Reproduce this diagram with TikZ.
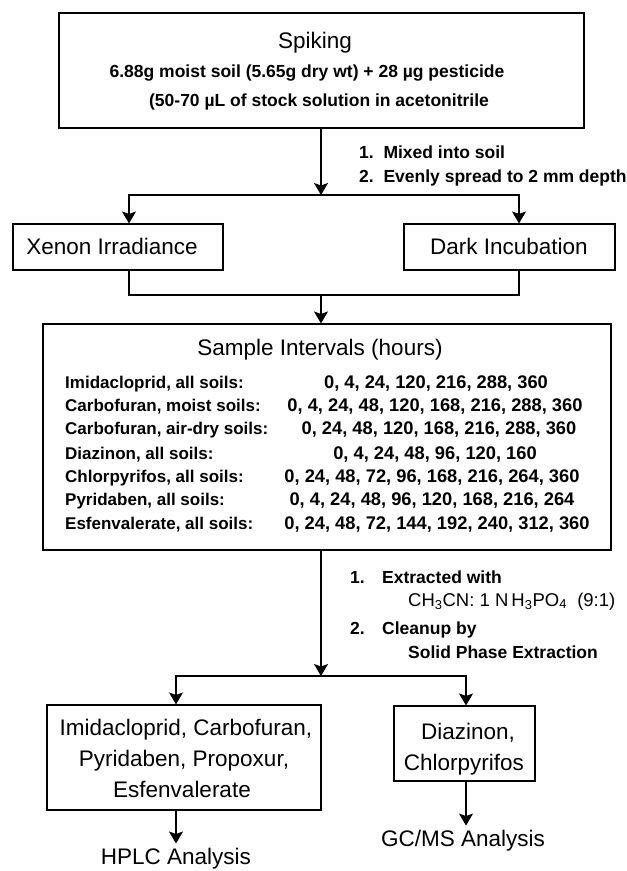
\documentclass[tikz,border=0pt]{standalone}
\usepackage{fontspec}
\setmainfont{Liberation Sans}
\usetikzlibrary{arrows.meta,calc}
\begin{document}
\begin{tikzpicture}[x=1pt,y=-1pt,
  box/.style={draw, line width=1.1pt, inner sep=0pt},
  ln/.style={line width=1.1pt},
  arr/.style={line width=1.1pt, -{Stealth[length=12pt,width=14pt,inset=2.5pt]}},
  big/.style={font=\fontsize{22.5}{27}\selectfont, anchor=base, inner sep=0pt},
  sm/.style={font=\fontsize{17.5}{21}\selectfont\bfseries, anchor=base, inner sep=0pt},
  smw/.style={sm, anchor=base west},
  lab/.style={font=\fontsize{17}{21}\selectfont\bfseries, anchor=base west, inner sep=0pt},
  num/.style={font=\fontsize{18.3}{21}\selectfont\bfseries, anchor=base, inner sep=0pt},
  chem/.style={font=\fontsize{18.5}{21}\selectfont, anchor=base west, inner sep=0pt}]
\useasboundingbox (0,0) rectangle (627,871);

% boxes
\node[box, minimum width=525pt, minimum height=115pt] (spike) at (321.5,70.5) {};
\node[box, minimum width=210pt, minimum height=46pt] (xenon) at (118,247) {};
\node[box, minimum width=211pt, minimum height=46pt] (dark) at (509.5,247) {};
\node[box, minimum width=568pt, minimum height=226pt] (sample) at (327,437) {};
\node[box, minimum width=274pt, minimum height=105pt] (hplcbox) at (184,757.5) {};
\node[box, minimum width=141pt, minimum height=75pt] (gcbox) at (464.5,743.5) {};

% texts
\node[big] (t1) at (315,48) {Spiking};
\node[sm] (t2) at (307,77) {6.88g moist soil (5.65g dry wt) + 28 µg pesticide};
\node[sm] (t3) at (319,106) {(50-70 µL of stock solution in acetonitrile};
\node[smw] (m1) at (359,158) {1.\ \ Mixed into soil};
\node[smw] (m2) at (359,182) {2.\ \ Evenly spread to 2 mm depth};
\node[big] (tx) at (112,254) {Xenon Irradiance};
\node[big] (td) at (509,254) {Dark Incubation};
\node[big] (ts) at (320,355) {Sample Intervals (hours)};

\node[lab] (r1) at (65,388) {Imidacloprid, all soils:};
\node[lab] (r2) at (65,411) {Carbofuran, moist soils:};
\node[lab] (r3) at (65,434) {Carbofuran, air-dry soils:};
\node[lab] (r4) at (65,459) {Diazinon, all soils:};
\node[lab] (r5) at (65,482) {Chlorpyrifos, all soils:};
\node[lab] (r6) at (65,505) {Pyridaben, all soils:};
\node[lab] (r7) at (65,529) {Esfenvalerate, all soils:};
\node[num] (n1) at (436,388) {0, 4, 24, 120, 216, 288, 360};
\node[num] (n2) at (435,411) {0, 4, 24, 48, 120, 168, 216, 288, 360};
\node[num] (n3) at (439,434) {0, 24, 48, 120, 168, 216, 288, 360};
\node[num] (n4) at (435,459) {0, 4, 24, 48, 96, 120, 160};
\node[num] (n5) at (432,482) {0, 24, 48, 72, 96, 168, 216, 264, 360};
\node[num] (n6) at (432,505) {0, 4, 24, 48, 96, 120, 168, 216, 264};
\node[num] (n7) at (437,529) {0, 24, 48, 72, 144, 192, 240, 312, 360};

\node[smw] (e1) at (350,583) {1.};
\node[smw] (e1b) at (382,583) {Extracted with};
\node[chem] (e1c) at (408,606) {CH\textsubscript{3}CN: 1 N\,H\textsubscript{3}PO\textsubscript{4}\ \ (9:1)};
\node[smw] (e2) at (350,634) {2.};
\node[smw] (e2b) at (382,634) {Cleanup by};
\node[smw] (e2c) at (408,658) {Solid Phase Extraction};

\node[big] (h1) at (186,735) {Imidacloprid, Carbofuran,};
\node[big] (h2) at (184,766) {Pyridaben, Propoxur,};
\node[big] (h3) at (182,797) {Esfenvalerate};
\node[big] (g1) at (468,739) {Diazinon,};
\node[big] (g2) at (464,770) {Chlorpyrifos};
\node[big] (hplc) at (176,864) {HPLC Analysis};
\node[big] (gcms) at (463,846) {GC/MS Analysis};

% connectors
\coordinate (split1) at (321,195);
\draw[arr] (spike.south -| split1) -- (split1);
\draw[arr] (split1) -| ($(xenon.north)+(11,0)$);
\draw[arr] (split1) -| ($(dark.north)+(9.5,0)$);
\coordinate (merge1) at (321,295);
\draw[ln] ($(xenon.south)+(11,0)$) |- (merge1);
\draw[ln] ($(dark.south)+(9.5,0)$) |- (merge1);
\draw[arr] (merge1) -- (merge1 |- sample.north);

\coordinate (split2) at (321,676);
\draw[arr] (sample.south -| split2) -- (split2);
\draw[arr] (split2) -| ($(hplcbox.north)+(-8,0)$);
\draw[arr] (split2) -| ($(gcbox.north)+(1.5,0)$);
\draw[arr] ($(hplcbox.south)+(-8,0)$) -- ($(hplc.north)+(0,-4)$) coordinate (hp);
\draw[arr] ($(gcbox.south)+(1.5,0)$) -- ($(gcbox.south)+(1.5,44)$) coordinate (gp);
\end{tikzpicture}
\end{document}
